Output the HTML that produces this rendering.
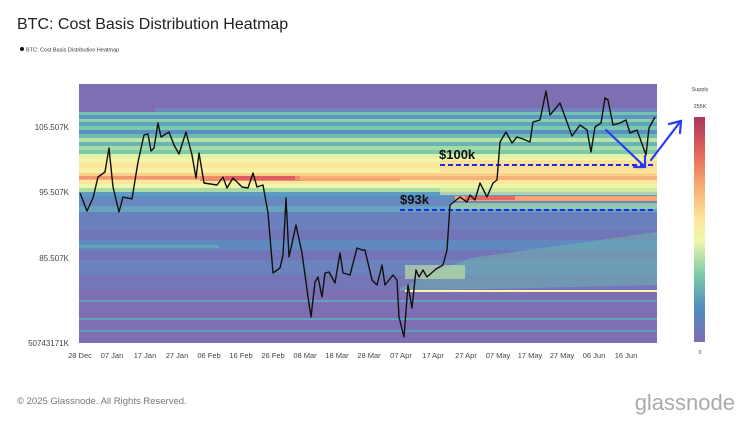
<!DOCTYPE html>
<html><head><meta charset="utf-8"><style>
body{margin:0;background:#fff;width:750px;height:420px;overflow:hidden;font-family:"Liberation Sans",Arial,sans-serif}
</style></head><body>
<svg width="750" height="420" xmlns="http://www.w3.org/2000/svg" font-family="Liberation Sans, Arial, sans-serif">
<text x="17" y="29" font-size="16" fill="#222">BTC: Cost Basis Distribution Heatmap</text>
<circle cx="22" cy="49" r="2" fill="#111"/>
<text x="26" y="51.5" font-size="5.5" fill="#333">BTC: Cost Basis Distribution Heatmap</text>
<rect x="79" y="84" width="578" height="259" fill="#7e6eb2"/>
<g>
<rect x="155" y="108" width="502" height="4" fill="#6e86bf"/>
<rect x="79" y="112" width="578" height="3" fill="#74c2ae"/>
<rect x="79" y="115" width="578" height="4" fill="#5d95c4"/>
<rect x="79" y="119" width="578" height="3" fill="#8ccfa8"/>
<rect x="79" y="122" width="578" height="4" fill="#5fa6bd"/>
<rect x="79" y="126" width="578" height="4" fill="#7cc8ad"/>
<rect x="79" y="130" width="578" height="4" fill="#5a8fc3"/>
<rect x="79" y="134" width="578" height="4" fill="#6fbcb0"/>
<rect x="79" y="138" width="578" height="4" fill="#b9e3a2"/>
<rect x="79" y="142" width="578" height="4" fill="#6bb4b6"/>
<rect x="79" y="146" width="578" height="4" fill="#a6dba4"/>
<rect x="79" y="150" width="578" height="4" fill="#7ec9ab"/>
<rect x="79" y="154" width="578" height="4" fill="#dff2a6"/>
<rect x="79" y="158" width="578" height="5" fill="#f3f4a8"/>
<rect x="79" y="163" width="578" height="5" fill="#fbe69b"/>
<rect x="79" y="168" width="578" height="5" fill="#f7f1a6"/>
<rect x="79" y="173" width="578" height="3" fill="#fdd18a"/>
<rect x="79" y="176" width="578" height="4" fill="#f6b27a"/>
<rect x="79" y="180" width="578" height="4" fill="#fbe69b"/>
<rect x="79" y="184" width="578" height="4" fill="#eef6aa"/>
<rect x="79" y="188" width="578" height="4" fill="#a9dca4"/>
<rect x="79" y="192" width="578" height="4" fill="#5b9bc4"/>
<rect x="79" y="196" width="578" height="4" fill="#5e8dc2"/>
<rect x="79" y="200" width="578" height="6" fill="#6c86bf"/>
<rect x="79" y="206" width="578" height="6" fill="#64a4bf"/>
<rect x="79" y="212" width="578" height="8" fill="#6a80bc"/>
<rect x="79" y="220" width="578" height="10" fill="#6d7fbd"/>
<rect x="79" y="230" width="578" height="10" fill="#7076b7"/>
<rect x="79" y="240" width="578" height="10" fill="#6288c0"/>
<rect x="79" y="250" width="578" height="10" fill="#7275b8"/>
<rect x="79" y="260" width="578" height="15" fill="#6c82bd"/>
<rect x="79" y="275" width="578" height="15" fill="#7476b7"/>
<rect x="79" y="300" width="578" height="2" fill="#5fa3be"/>
<rect x="79" y="318" width="578" height="2" fill="#5fa3be"/>
<rect x="79" y="330" width="578" height="2" fill="#5f9dc0"/>
<rect x="200" y="176" width="100" height="5" fill="#f08a68"/>
<rect x="225" y="176" width="70" height="4" fill="#dd5d62"/>
<rect x="300" y="178" width="100" height="3" fill="#f6a572"/>
<rect x="79" y="176" width="120" height="3" fill="#f3966c"/>
<rect x="440" y="160" width="217" height="12" fill="#fad896" opacity="0.6"/>
<rect x="455" y="196" width="202" height="5" fill="#f6a572"/>
<rect x="465" y="196" width="50" height="4" fill="#e76a62"/>
<rect x="440" y="185" width="217" height="10" fill="#e9f4a0" opacity="0.6"/>
<rect x="450" y="203" width="207" height="6" fill="#a6dba4" opacity="0.7"/>
<polygon points="400,288 470,258 657,232 657,285 400,291" fill="#6fbfb0" opacity="0.45"/>
<rect x="405" y="265" width="60" height="14" fill="#c9e9a0" opacity="0.6"/>
<rect x="405" y="290" width="252" height="2" fill="#fbf3b0"/>
<rect x="79" y="245" width="140" height="3" fill="#62b0b8" opacity="0.7"/>
</g>
<line x1="440" y1="165" x2="654" y2="165" stroke="#1f2bf0" stroke-width="2" stroke-dasharray="5,3"/>
<line x1="400" y1="210" x2="654" y2="210" stroke="#1f2bf0" stroke-width="2" stroke-dasharray="5,3"/>
<text x="439" y="159" font-size="13" font-weight="bold" fill="#111">$100k</text>
<text x="400" y="204" font-size="13" font-weight="bold" fill="#111">$93k</text>
<polyline fill="none" stroke="#111" stroke-width="1.4" stroke-linejoin="round" points="80,193 87,211 93,198 98,177 105,172 109,148 113,187 119,212 123,197 132,199 138,162 144,135 148,134 151,151 154,148 158,123 161,137 169,132 174,145 179,154 186,132 192,155 196,178 199,153 204,183 217,185 223,177 227,188 233,178 242,187 248,188 253,173 257,187 263,185 268,213 273,273 280,268 283,255 286,198 289,257 296,225 302,253 308,297 311,317 315,282 318,277 322,297 325,273 329,272 335,283 340,253 343,273 350,275 357,248 362,250 365,250 372,280 377,285 382,265 385,285 393,275 397,280 399,317 404,337 408,285 412,308 416,270 419,277 423,270 427,277 436,269 443,265 447,250 450,205 460,197 467,202 470,195 475,200 480,183 487,197 493,183 497,180 500,142 506,132 512,143 517,137 523,139 530,142 533,122 540,120 546,91 550,115 560,103 572,136 580,125 587,130 591,152 595,127 601,123 605,98 608,100 613,125 620,123 626,120 630,133 637,130 646,155 649,128 655,117"/>
<g stroke="#2b3bf5" stroke-width="2.2" fill="none" stroke-linecap="round">
<line x1="606" y1="130" x2="644" y2="166"/>
<polyline points="634,167 645,167 645,156"/>
<line x1="651" y1="160" x2="680" y2="122"/>
<polyline points="669,124 681,121 680,133"/>
</g>
<g font-size="8" fill="#444" text-anchor="end">
<text x="69" y="130">105.507K</text>
<text x="69" y="195">95.507K</text>
<text x="69" y="261">85.507K</text>
<text x="69" y="346">50743171K</text>
</g>
<g font-size="7.5" fill="#444" text-anchor="middle">
<text x="80" y="358">28 Dec</text><text x="112" y="358">07 Jan</text><text x="145" y="358">17 Jan</text><text x="177" y="358">27 Jan</text><text x="209" y="358">06 Feb</text><text x="241" y="358">16 Feb</text><text x="273" y="358">26 Feb</text><text x="305" y="358">08 Mar</text><text x="337" y="358">18 Mar</text><text x="369" y="358">28 Mar</text><text x="401" y="358">07 Apr</text><text x="433" y="358">17 Apr</text><text x="466" y="358">27 Apr</text><text x="498" y="358">07 May</text><text x="530" y="358">17 May</text><text x="562" y="358">27 May</text><text x="594" y="358">06 Jun</text><text x="626" y="358">16 Jun</text>
</g>
<defs><linearGradient id="cb" x1="0" y1="0" x2="0" y2="1">
<stop offset="0" stop-color="#a8385c"/><stop offset="0.15" stop-color="#e0625a"/><stop offset="0.3" stop-color="#f6a86e"/><stop offset="0.45" stop-color="#fde59a"/><stop offset="0.55" stop-color="#eef7aa"/><stop offset="0.7" stop-color="#7ecaa8"/><stop offset="0.85" stop-color="#4f8cc0"/><stop offset="1" stop-color="#7e6eb2"/>
</linearGradient></defs>
<rect x="694" y="117" width="11" height="225" fill="url(#cb)"/>
<g font-size="5.5" fill="#444" text-anchor="middle">
<text x="700" y="91">Supply</text><text x="700" y="108">255K</text><text x="700" y="354">0</text>
</g>
<text x="17" y="404" font-size="9.5" fill="#777">© 2025 Glassnode. All Rights Reserved.</text>
<text x="735" y="410" font-size="22" fill="#aaa" text-anchor="end">glassnode</text>
</svg>
</body></html>
